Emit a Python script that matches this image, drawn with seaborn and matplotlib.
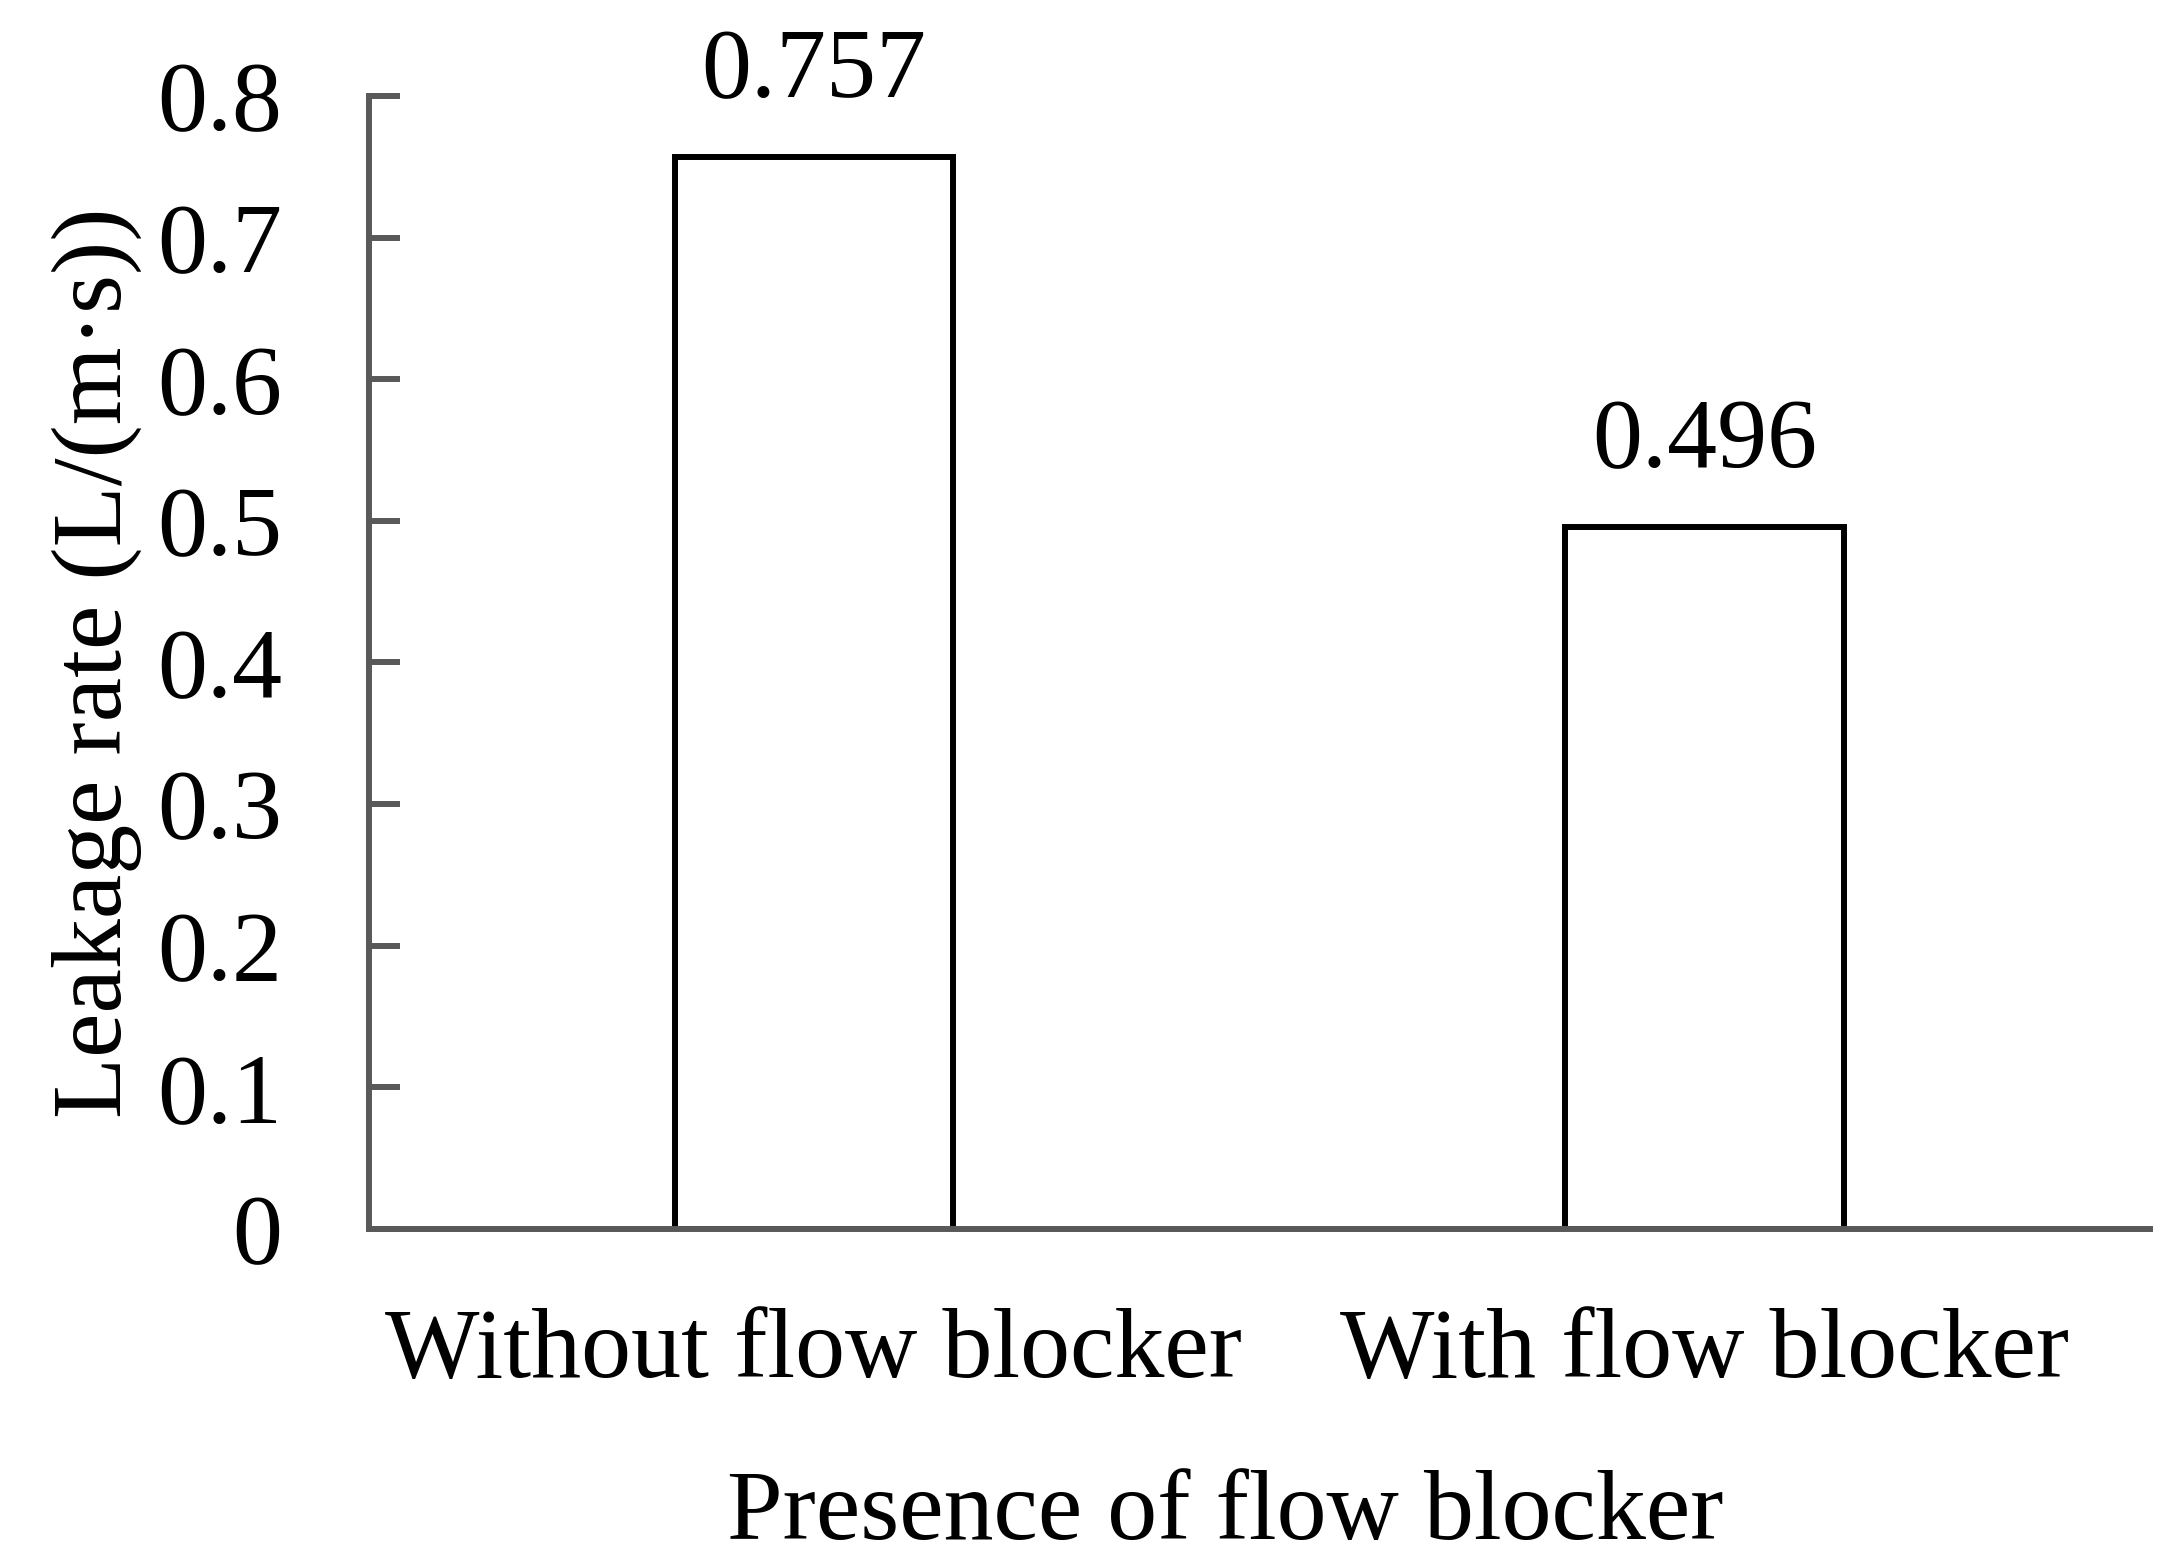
import matplotlib
matplotlib.use("Agg")
import matplotlib.pyplot as plt
import seaborn as sns
import pandas as pd

categories = ["Without flow blocker", "With flow blocker"]
leakage = [0.757, 0.496]
value_labels = ["0.757", "0.496"]
yticks = [0, 0.1, 0.2, 0.3, 0.4, 0.5, 0.6, 0.7, 0.8]
ytick_labels = ["0", "0.1", "0.2", "0.3", "0.4", "0.5", "0.6", "0.7", "0.8"]

sns.set_theme(style="white")
plt.rcParams['font.family'] = ['Liberation Serif', 'DejaVu Serif']
plt.rcParams['text.color'] = 'black'
plt.rcParams['axes.labelcolor'] = 'black'
plt.rcParams['xtick.color'] = 'black'
plt.rcParams['ytick.color'] = 'black'

FS = 72

df = pd.DataFrame({"cat": categories, "val": leakage})

fig = plt.figure(figsize=(21.68, 15.68), dpi=100)
ax = fig.add_axes([0.170, 0.2162, 0.8217, 0.7226])

sns.barplot(data=df, x="cat", y="val", ax=ax, color="white", edgecolor="black",
            linewidth=4.3, width=0.313, saturation=1)

ax.set_xlim(-0.5, 1.5)
ax.set_ylim(0, 0.8)
ax.set_yticks(yticks)
ax.set_yticklabels(ytick_labels)

for s in ["top", "right"]:
    ax.spines[s].set_visible(False)
for s in ["left", "bottom"]:
    ax.spines[s].set_color("#595959")
    ax.spines[s].set_linewidth(4.3)

ax.tick_params(axis="y", direction="in", length=22, width=4.3, color="#595959",
               labelcolor="black", labelsize=FS, pad=62, left=True)
ax.tick_params(axis="x", length=0, labelsize=FS, labelcolor="black", pad=57)

for i, (v, lab) in enumerate(zip(leakage, value_labels)):
    ax.annotate(lab, (i, v), xytext=(0, 43), textcoords="offset points",
                ha="center", va="baseline", fontsize=FS, color="black")

ax.set_xlabel("Presence of flow blocker", fontsize=FS, color="black")
ax.set_ylabel("Leakage rate (L/(m·s))", fontsize=FS, color="black")
ax.xaxis.set_label_coords(0.481, -0.213)
ax.yaxis.set_label_coords(-0.127, 0.5)

fig.savefig("out.png", dpi=100, facecolor="white")
